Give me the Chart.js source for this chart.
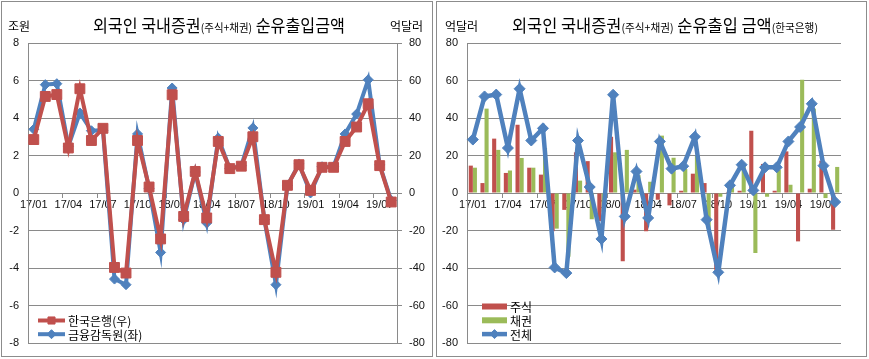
<!DOCTYPE html>
<html>
<head>
<meta charset="utf-8">
<script src="https://cdn.jsdelivr.net/npm/chart.js@4.4.1/dist/chart.umd.min.js"></script>
<style>
  body { margin: 0; background: #fff; width: 869px; height: 359px; position: relative; overflow: hidden; }
  .panel { position: absolute; top: 1px; height: 354px; border: 1px solid #8c8c8c; background: #fff; }
  .panel canvas { position: absolute; left: 0; top: 0; }
  .title { position: absolute; top: 12px; white-space: nowrap; font-family: 'Noto Sans CJK KR', sans-serif;
           font-size: 17px; line-height: 22px; color: #000; transform-origin: 0 50%; }
  .title span { font-size: 11px; }
  .unit { position: absolute; top: 16px; font-family: 'Noto Sans CJK KR', sans-serif; font-size: 12px;
          line-height: 16px; color: #000; white-space: nowrap; }
</style>
</head>
<body>
<div class="panel" style="left:1px;width:430px;">
  <canvas id="chart1" width="430" height="354"></canvas>
  <div class="unit" style="left:6px;">조원</div>
  <div class="unit" style="left:388px;">억달러</div>
  <div class="title" id="title1" data-w="252" style="left:91px;">외국인 국내증권<span>(주식+채권)</span> 순유출입금액</div>
</div>
<div class="panel" style="left:436px;width:429px;">
  <canvas id="chart2" width="429" height="354"></canvas>
  <div class="unit" style="left:8px;">억달러</div>
  <div class="title" id="title2" data-w="306" style="left:75px;">외국인 국내증권<span>(주식+채권)</span> 순유출입 금액<span>(한국은행)</span></div>
</div>
<script>
// monthly, 2017/01 ~ 2019/08
const months = ['17/01','17/02','17/03','17/04','17/05','17/06','17/07','17/08','17/09','17/10','17/11','17/12',
                '18/01','18/02','18/03','18/04','18/05','18/06','18/07','18/08','18/09','18/10','18/11','18/12',
                '19/01','19/02','19/03','19/04','19/05','19/06','19/07','19/08'];

// 한국은행 (억달러) - also 전체 on the right chart
const bokTotal = [28.5, 51.5, 52.5, 24, 55.6, 28, 34.5, -39.7, -42.7, 28, 3.2, -24.5,
                  52.4, -12.5, 11.5, -13.3, 27.5, 13, 14.3, 30, -14.2, -42.3, 4.1, 15.1,
                  1.4, 13.7, 13.7, 27.5, 35.2, 47.6, 14.6, -4.8];

// 금융감독원 (조원)
const fssTotal = [3.4, 5.78, 5.83, 2.5, 4.27, 3.32, 3.35, -4.59, -4.89, 3.15, 0.25, -3.17,
                  5.6, -1.42, 1.12, -1.6, 2.93, 1.3, 1.45, 3.47, -1.42, -4.89, 0.4, 1.55,
                  0.0, 1.4, 1.4, 3.15, 4.21, 6.04, 1.5, -0.4];

// 주식 / 채권 (억달러)
const stocks = [14.6, 5.3, 29, 10.7, 36.4, 13.5, 9.8, -20.4, -9, 21.7, 17, -15,
                30, -36.4, 1.8, -20.4, -3.6, -6.6, 1.2, 10.3, 5.3, -41, 0.5, 1.2,
                33.2, 15.5, 1.2, 22.2, -25.8, 2.3, 17.2, -19.6];
const bonds = [13.5, 45, 23, 12, 18.7, 13.5, 24, -19, -34, 6.6, -14, -10,
               21.7, 23, 9.5, 6, 30.6, 18.8, 12.8, 20, -19, -2, 3.5, 14.2,
               -32, -2, 12.4, 4.4, 60.4, 45, -2.7, 13.9];

const leftTicks = [-8, 8, 2];
const rightTicks = [-80, 80, 20];

const RED = '#C0504D', BLUE = '#4F81BD', GREEN = '#9BBB59', GRID = '#8a8a8a';

Chart.defaults.font.family = "'Liberation Sans', 'Noto Sans CJK KR', sans-serif";
Chart.defaults.font.size = 11;
Chart.defaults.color = '#111';

// legend drawn inside the plot area, bottom-left
const insideLegend = {
  id: 'insideLegend',
  afterDraw(chart, args, opts) {
    const ctx = chart.ctx;
    ctx.save();
    ctx.font = opts.font;
    ctx.textBaseline = 'middle';
    chart.data.datasets.forEach((ds, i) => {
      const y = opts.y + i * opts.rowGap;
      const x0 = opts.x, x1 = opts.x + opts.symbolWidth;
      if (ds.type === 'bar') {
        ctx.fillStyle = ds.backgroundColor;
        ctx.fillRect(x0, y - 3, x1 - x0, 6);
      } else {
        ctx.strokeStyle = ds.borderColor;
        ctx.lineWidth = ds.borderWidth;
        ctx.beginPath();
        ctx.moveTo(x0, y);
        ctx.lineTo(x1, y);
        ctx.stroke();
        ctx.fillStyle = ds.pointBackgroundColor;
        ctx.strokeStyle = ds.pointBorderColor;
        ctx.lineWidth = 1;
        Chart.helpers.drawPoint(ctx, { pointStyle: ds.pointStyle, radius: opts.pointRadius[i], rotation: 0, borderWidth: 1 }, (x0 + x1) / 2, y);
      }
      ctx.fillStyle = '#000';
      ctx.fillText(ds.label, x1 + opts.textGap, y + 1);
    });
    ctx.restore();
  }
};

// fixed axis width, and no extra space reserved for the end labels
function fixWidth(w) {
  return s => { s.width = w; s.paddingTop = 0; s.paddingBottom = 0; };
}

function xAxis() {
  return {
    type: 'category',
    position: { y: 0 },
    offset: true,
    grid: {
      offset: true,
      drawOnChartArea: false,
      tickLength: 4,
      color: c => (c.index % 3 === 0 ? GRID : 'rgba(0,0,0,0)')
    },
    border: { display: true, color: GRID },
    ticks: {
      autoSkip: false,
      maxRotation: 0,
      padding: 1,
      callback: (v, i) => (i % 3 === 0 ? months[i] : '')
    }
  };
}

new Chart(document.getElementById('chart1'), {
  type: 'line',
  data: {
    labels: months,
    datasets: [
      {
        label: '한국은행(우)',
        data: bokTotal,
        yAxisID: 'y1',
        borderColor: RED,
        borderWidth: 4,
        pointStyle: 'rect',
        pointRadius: 7,
        pointBackgroundColor: RED,
        pointBorderColor: RED,
        pointBorderWidth: 1,
        tension: 0
      },
      {
        label: '금융감독원(좌)',
        data: fssTotal,
        yAxisID: 'y',
        borderColor: BLUE,
        borderWidth: 4,
        pointStyle: 'rectRot',
        pointRadius: 5,
        pointBackgroundColor: BLUE,
        pointBorderColor: BLUE,
        pointBorderWidth: 1,
        tension: 0
      }
    ]
  },
  options: {
    responsive: false,
    animation: false,
    layout: { autoPadding: false, padding: { top: 41, bottom: 13, left: 0, right: 0 } },
    plugins: {
      legend: { display: false },
      tooltip: { enabled: false },
      insideLegend: { x: 36, y: 318.5, rowGap: 13.7, symbolWidth: 27, textGap: 3, pointRadius: [5, 4.5],
                      font: "12px 'Noto Sans CJK KR', sans-serif" }
    },
    scales: {
      x: xAxis(),
      y: {
        position: 'left',
        min: leftTicks[0], max: leftTicks[1],
        afterFit: fixWidth(26),
        grid: { color: GRID, drawTicks: false },
        border: { display: true, color: GRID },
        ticks: { stepSize: leftTicks[2], padding: 9 }
      },
      y1: {
        position: 'right',
        min: rightTicks[0], max: rightTicks[1],
        afterFit: fixWidth(35),
        grid: { drawOnChartArea: false, color: GRID, tickLength: 5 },
        border: { display: true, color: GRID },
        ticks: { stepSize: rightTicks[2], padding: 7 }
      }
    }
  },
  plugins: [insideLegend]
});

new Chart(document.getElementById('chart2'), {
  data: {
    labels: months,
    datasets: [
      {
        type: 'bar',
        label: '주식',
        data: stocks,
        backgroundColor: RED,
        order: 1,
        barPercentage: 1,
        categoryPercentage: 0.7
      },
      {
        type: 'bar',
        label: '채권',
        data: bonds,
        backgroundColor: GREEN,
        order: 1,
        barPercentage: 1,
        categoryPercentage: 0.7
      },
      {
        type: 'line',
        label: '전체',
        data: bokTotal,
        order: 0,
        borderColor: BLUE,
        borderWidth: 4.5,
        pointStyle: 'rectRot',
        pointRadius: 5.5,
        pointBackgroundColor: BLUE,
        pointBorderColor: BLUE,
        pointBorderWidth: 1,
        tension: 0
      }
    ]
  },
  options: {
    responsive: false,
    animation: false,
    layout: { autoPadding: false, padding: { top: 41, bottom: 13, left: 0, right: 25 } },
    plugins: {
      legend: { display: false },
      tooltip: { enabled: false },
      insideLegend: { x: 45, y: 304.5, rowGap: 13.8, symbolWidth: 25, textGap: 3, pointRadius: [0, 0, 4.5],
                      font: "12px 'Noto Sans CJK KR', sans-serif" }
    },
    scales: {
      x: xAxis(),
      y: {
        position: 'left',
        min: rightTicks[0], max: rightTicks[1],
        afterFit: fixWidth(30),
        grid: { color: GRID, drawTicks: false },
        border: { display: true, color: GRID },
        ticks: { stepSize: rightTicks[2], padding: 9 }
      }
    }
  },
  plugins: [insideLegend]
});

// squeeze titles to the width they take in the original
document.querySelectorAll('.title').forEach(el => {
  const w = el.getBoundingClientRect().width;
  el.style.transform = 'scaleX(' + (Number(el.dataset.w) / w) + ')';
});
</script>
</body>
</html>
